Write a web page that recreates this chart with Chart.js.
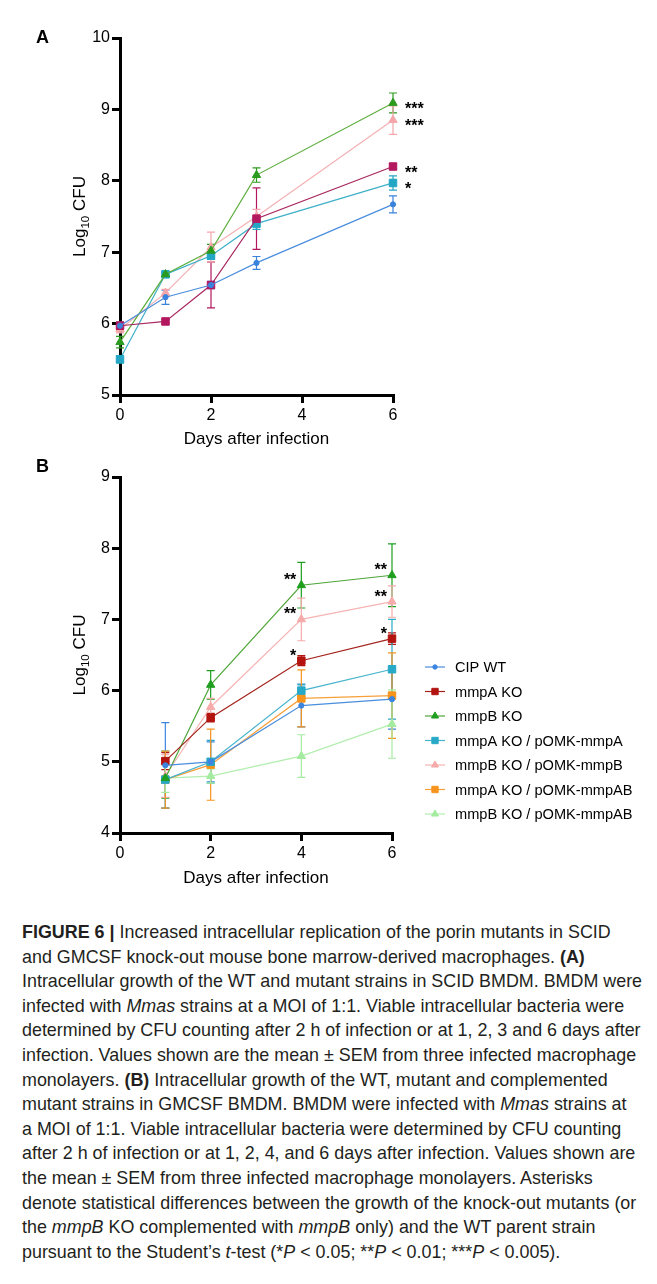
<!DOCTYPE html>
<html>
<head>
<meta charset="utf-8">
<script src="https://cdn.jsdelivr.net/npm/chart.js@4.4.1/dist/chart.umd.min.js"></script>
<style>
  body { margin: 0; background: #fff; width: 657px; height: 1284px; position: relative; overflow: hidden;
         font-family: "Liberation Sans", Arial, sans-serif; }
  #chartA { position: absolute; left: 0; top: 0; }
  #chartB { position: absolute; left: 0; top: 455px; }
  #caption { position: absolute; left: 22px; top: 920px; font-size: 17.9px; line-height: 24.6px;
             color: #231f20; white-space: nowrap; }
  #caption b { font-weight: bold; }
</style>
</head>
<body>
<canvas id="chartA" width="657" height="455"></canvas>
<canvas id="chartB" width="657" height="445"></canvas>
<div id="caption">
<b>FIGURE 6 |</b> Increased intracellular replication of the porin mutants in SCID<br>
and GMCSF knock-out mouse bone marrow-derived macrophages. <b>(A)</b><br>
Intracellular growth of the WT and mutant strains in SCID BMDM. BMDM were<br>
infected with <i>Mmas</i> strains at a MOI of 1:1. Viable intracellular bacteria were<br>
determined by CFU counting after 2 h of infection or at 1, 2, 3 and 6 days after<br>
infection. Values shown are the mean ± SEM from three infected macrophage<br>
monolayers. <b>(B)</b> Intracellular growth of the WT, mutant and complemented<br>
mutant strains in GMCSF BMDM. BMDM were infected with <i>Mmas</i> strains at<br>
a MOI of 1:1. Viable intracellular bacteria were determined by CFU counting<br>
after 2 h of infection or at 1, 2, 4, and 6 days after infection. Values shown are<br>
the mean ± SEM from three infected macrophage monolayers. Asterisks<br>
denote statistical differences between the growth of the knock-out mutants (or<br>
the <i>mmpB</i> KO complemented with <i>mmpB</i> only) and the WT parent strain<br>
pursuant to the Student’s <i>t</i>-test (*<i>P</i> &lt; 0.05; **<i>P</i> &lt; 0.01; ***<i>P</i> &lt; 0.005).
</div>
<script>
// ---- Panel A data (SCID BMDM) ----
const daysA = [0, 1, 2, 3, 6];
const namesA = ['CIP WT', 'mmpA KO', 'mmpB KO', 'mmpA KO / pOMK-mmpA', 'mmpB KO / pOMK-mmpB'];
const wtA      = [5.97, 6.37, 6.54, 6.85, 7.67];
const mmpAKO_A = [5.97, 6.03, 6.54, 7.47, 8.20];
const mmpBKO_A = [5.74, 6.69, 7.02, 8.08, 9.09];
const compA_A  = [5.50, 6.69, 6.95, 7.40, 7.97];
const compB_A  = [5.92, 6.43, 7.07, 7.50, 8.85];
const wtAErr      = [0.05, 0.10, 0.05, 0.09, 0.12];
const mmpAKO_AErr = [0.05, 0.03, 0.32, 0.43, 0.04];
const mmpBKO_AErr = [0.08, 0.03, 0.09, 0.10, 0.14];
const compA_AErr  = [0.05, 0.03, 0.05, 0.08, 0.10];
const compB_AErr  = [0.05, 0.05, 0.21, 0.10, 0.20];
const starsA = [
  ['', '', '', '', ''],
  ['', '', '', '', '**'],
  ['', '', '', '', '***'],
  ['', '', '', '', '*'],
  ['', '', '', '', '***']
];

// ---- Panel B data (GMCSF BMDM) ----
const daysB = [1, 2, 4, 6];
const namesB = ['CIP WT', 'mmpA KO', 'mmpB KO', 'mmpA KO / pOMK-mmpA', 'mmpB KO / pOMK-mmpB',
                'mmpA KO / pOMK-mmpAB', 'mmpB KO / pOMK-mmpAB'];
const wtB       = [4.95, 5.00, 5.79, 5.88];
const mmpAKO_B  = [5.01, 5.62, 6.42, 6.73];
const mmpBKO_B  = [4.77, 6.08, 7.48, 7.62];
const compA_B   = [4.75, 5.00, 6.00, 6.30];
const compB_B   = [4.80, 5.77, 7.00, 7.25];
const compAB_A_B = [4.75, 4.96, 5.89, 5.93];
const compAB_B_B = [4.77, 4.80, 5.08, 5.53];
const wtBErr       = [0.60, 0.28, 0.30, 0.42];
const mmpAKO_BErr  = [0.12, 0.06, 0.07, 0.08];
const mmpBKO_BErr  = [0.28, 0.20, 0.32, 0.44];
const compA_BErr   = [0.40, 0.30, 0.08, 0.70];
const compB_BErr   = [0.30, 0.12, 0.30, 0.22];
const compAB_A_BErr = [0.40, 0.50, 0.40, 0.60];
const compAB_B_BErr = [0.20, 0.10, 0.30, 0.48];
const starsB = [
  ['', '', '', ''],
  ['', '', '*', '*'],
  ['', '', '**', '**'],
  ['', '', '', ''],
  ['', '', '**', '**'],
  ['', '', '', ''],
  ['', '', '', '']
];

const FONT = '"Liberation Sans", Arial, sans-serif';

// styles per series
const styleA = [
  { color: '#3a83dc', line: '#4a8ede', shape: 'circle', r: 2.6 },
  { color: '#b3185f', line: '#a8285f', shape: 'rect', r: 5.3 },
  { color: '#2b9b1f', line: '#5dae3e', shape: 'triangle', r: 4.8 },
  { color: '#22a6c4', line: '#3fb0c8', shape: 'rect', r: 5.3 },
  { color: '#f4a6aa', line: '#f4b0b3', shape: 'triangle', r: 4.8 }
];
const styleB = [
  { color: '#3b85e0', line: '#4a8ede', shape: 'circle', r: 2.6 },
  { color: '#b3140f', line: '#a3231c', shape: 'rect', r: 5.3 },
  { color: '#1f9e1f', line: '#4fa63a', shape: 'triangle', r: 4.8 },
  { color: '#27a9c7', line: '#45b3cc', shape: 'rect', r: 5.3 },
  { color: '#f6aaaa', line: '#f6b4b4', shape: 'triangle', r: 4.8 },
  { color: '#f7941d', line: '#f7a03a', shape: 'rect', r: 5.3 },
  { color: '#a4eba0', line: '#b2eeae', shape: 'triangle', r: 4.8 }
];

function buildDatasets(days, series, names, styles) {
  return series.map((vals, i) => ({
    label: names[i],
    data: vals.map((v, j) => ({ x: days[j], y: v })),
    borderColor: styles[i].line,
    backgroundColor: styles[i].color,
    pointBackgroundColor: styles[i].color,
    pointBorderColor: styles[i].color,
    pointStyle: styles[i].shape,
    pointRadius: styles[i].r,
    pointBorderWidth: 1,
    borderWidth: 1.2,
    tension: 0,
    clip: false
  }));
}

// error bars under the markers
function errorBarPlugin(errs) {
  return {
    id: 'errorBars',
    beforeDatasetsDraw(chart) {
      const ctx = chart.ctx, yScale = chart.scales.y;
      chart.data.datasets.forEach((ds, i) => {
        const meta = chart.getDatasetMeta(i);
        ctx.save();
        ctx.strokeStyle = ds.pointBorderColor;
        ctx.lineWidth = 1.2;
        meta.data.forEach((pt, j) => {
          const e = errs[i][j];
          if (!e) return;
          const v = ds.data[j].y;
          const top = yScale.getPixelForValue(v + e);
          const bot = yScale.getPixelForValue(v - e);
          ctx.beginPath();
          ctx.moveTo(pt.x, top); ctx.lineTo(pt.x, bot);
          ctx.moveTo(pt.x - 4, top); ctx.lineTo(pt.x + 4, top);
          ctx.moveTo(pt.x - 4, bot); ctx.lineTo(pt.x + 4, bot);
          ctx.stroke();
        });
        ctx.restore();
      });
    }
  };
}

// significance stars, panel letter, y title with subscript
function decorPlugin(opts) {
  return {
    id: 'decor',
    afterDraw(chart) {
      const { ctx, chartArea } = chart;
      ctx.save();
      ctx.fillStyle = '#000';

      // panel letter
      ctx.font = `bold 18px ${FONT}`;
      ctx.textAlign = 'left';
      ctx.textBaseline = 'alphabetic';
      ctx.fillText(opts.letter, 36, opts.letterY);

      // stars
      ctx.font = `bold 16px ${FONT}`;
      chart.data.datasets.forEach((ds, i) => {
        const meta = chart.getDatasetMeta(i);
        meta.data.forEach((pt, j) => {
          const s = opts.stars[i][j];
          if (!s) return;
          if (opts.starMode === 'right') {
            ctx.textAlign = 'left';
            ctx.fillText(s, pt.x + 12, pt.y + 11);
          } else {
            ctx.textAlign = 'right';
            ctx.fillText(s, pt.x - 5, pt.y + 0);
          }
        });
      });

      // y title: Log10 CFU
      const cy = (chartArea.top + chartArea.bottom) / 2;
      ctx.translate(79, cy);
      ctx.rotate(-Math.PI / 2);
      ctx.textAlign = 'left';
      const big = `17px ${FONT}`, small = `11.5px ${FONT}`;
      ctx.font = big;
      const w1 = ctx.measureText('Log').width, w3 = ctx.measureText(' CFU').width;
      ctx.font = small;
      const w2 = ctx.measureText('10').width;
      const sx = -(w1 + w2 + w3) / 2;
      ctx.font = big;  ctx.fillText('Log', sx, 6);
      ctx.font = small; ctx.fillText('10', sx + w1, 10);
      ctx.font = big;  ctx.fillText(' CFU', sx + w1 + w2, 6);
      ctx.restore();
    }
  };
}

// legend on the right of panel B (line + marker, then label)
function legendPlugin(names, styles) {
  return {
    id: 'sideLegend',
    afterDraw(chart) {
      const ctx = chart.ctx;
      ctx.save();
      names.forEach((name, i) => {
        const y = 212 + i * 24.5;
        const st = styles[i];
        ctx.strokeStyle = st.line;
        ctx.lineWidth = 1.2;
        ctx.beginPath(); ctx.moveTo(425, y); ctx.lineTo(445, y); ctx.stroke();
        ctx.fillStyle = st.color;
        ctx.strokeStyle = st.color;
        ctx.lineWidth = 1;
        Chart.helpers.drawPoint(ctx, { pointStyle: st.shape, radius: st.r * 0.85, rotation: 0, borderWidth: 1 }, 435, y);
        ctx.fillStyle = '#000';
        ctx.font = `14.6px ${FONT}`;
        ctx.textAlign = 'left';
        ctx.textBaseline = 'middle';
        ctx.fillText(name, 455, y + 1);
      });
      ctx.restore();
    }
  };
}

function axisOptions(cfg) {
  return {
    responsive: false,
    animation: false,
    layout: { padding: { top: cfg.padTop, left: 0, right: cfg.padRight, bottom: 0 } },
    plugins: { legend: { display: false }, tooltip: { enabled: false } },
    scales: {
      x: {
        type: 'linear', min: 0, max: 6,
        afterFit: (s) => { s.height = cfg.xHeight; },
        ticks: { stepSize: 2, color: '#000', padding: cfg.xTickPad, font: { size: 16, family: FONT } },
        grid: { drawOnChartArea: false, drawTicks: true, tickLength: 8, lineWidth: 3, color: '#000' },
        border: { display: true, width: 3, color: '#000' },
        title: { display: true, text: 'Days after infection', color: '#000',
                 font: { size: 17, family: FONT }, padding: { top: 0, bottom: cfg.titlePad } }
      },
      y: {
        min: cfg.yMin, max: cfg.yMax,
        afterFit: (s) => { s.width = 120; },
        ticks: { stepSize: 1, color: '#000', padding: 2, font: { size: 16, family: FONT } },
        grid: { drawOnChartArea: false, drawTicks: true, tickLength: 8, lineWidth: 3, color: '#000' },
        border: { display: true, width: 3, color: '#000' }
      }
    }
  };
}

new Chart(document.getElementById('chartA'), {
  type: 'line',
  data: { datasets: buildDatasets(daysA, [wtA, mmpAKO_A, mmpBKO_A, compA_A, compB_A], namesA, styleA) },
  options: axisOptions({ padTop: 38, padRight: 264, xHeight: 60, xTickPad: 3, titlePad: 5, yMin: 5, yMax: 10 }),
  plugins: [
    errorBarPlugin([wtAErr, mmpAKO_AErr, mmpBKO_AErr, compA_AErr, compB_AErr]),
    decorPlugin({ letter: 'A', letterY: 43, stars: starsA, starMode: 'right' })
  ]
});

new Chart(document.getElementById('chartB'), {
  type: 'line',
  data: { datasets: buildDatasets(daysB, [wtB, mmpAKO_B, mmpBKO_B, compA_B, compB_B, compAB_A_B, compAB_B_B], namesB, styleB) },
  options: axisOptions({ padTop: 22, padRight: 265, xHeight: 67, xTickPad: 3, titlePad: 11, yMin: 4, yMax: 9 }),
  plugins: [
    errorBarPlugin([wtBErr, mmpAKO_BErr, mmpBKO_BErr, compA_BErr, compB_BErr, compAB_A_BErr, compAB_B_BErr]),
    decorPlugin({ letter: 'B', letterY: 17, stars: starsB, starMode: 'above' }),
    legendPlugin(namesB, styleB)
  ]
});
</script>
</body>
</html>
